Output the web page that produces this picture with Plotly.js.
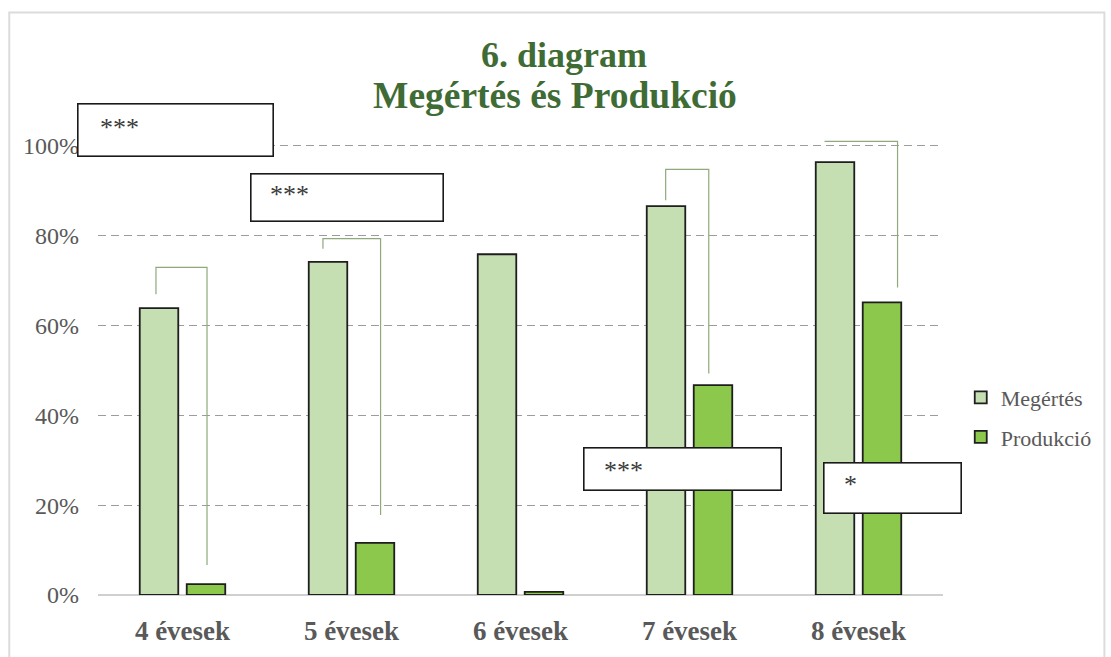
<!DOCTYPE html>
<html>
<head>
<meta charset="utf-8">
<script src="https://cdn.plot.ly/plotly-3.0.1.min.js"></script>
<style>html,body{margin:0;padding:0;background:#fff;}#chart{width:1111px;height:657px;}</style>
</head>
<body>
<div id="chart"></div>
<script>
// Data
const categories = ['4 évesek', '5 évesek', '6 évesek', '7 évesek', '8 évesek'];
const megertes = [63.8, 74.1, 75.8, 86.5, 96.3];
const produkcio = [2.4, 11.6, 0.7, 46.7, 65.1];
const yTickVals = [0, 20, 40, 60, 80, 100];
const yTickText = ['0%', '20%', '40%', '60%', '80%', '100%'];
const significance = ['***', '***', '***', '*'];
const titleLine1 = '6. diagram';
const titleLine2 = 'Megértés és Produkció';

const serif = '"Liberation Serif", "DejaVu Serif", serif';
const bracketColor = '#8fa97c';

const traces = [
  {
    type: 'bar', name: 'Megértés', x: categories, y: megertes,
    marker: {color: '#c5dfb3', line: {color: '#1e1e1e', width: 1.8}},
    legendgroup: 'a', hoverinfo: 'skip'
  },
  {
    type: 'bar', name: 'Produkció', x: categories, y: produkcio,
    marker: {color: '#8cc84b', line: {color: '#1e1e1e', width: 1.8}},
    legendgroup: 'b', hoverinfo: 'skip'
  }
];

function bracket(pts) {
  return {
    type: 'path', xref: 'x', yref: 'y', layer: 'above',
    path: pts.map((p, i) => (i ? 'L' : 'M') + p[0] + ',' + p[1]).join(' '),
    line: {color: bracketColor, width: 1.2}
  };
}

const shapes = [
  bracket([[-0.157, 66.9], [-0.157, 72.9], [0.145, 72.9], [0.145, 6.7]]),
  bracket([[0.831, 77.0], [0.831, 79.3], [1.172, 79.3], [1.172, 17.8]]),
  bracket([[2.859, 87.8], [2.859, 94.7], [3.114, 94.7], [3.114, 49.3]]),
  bracket([[3.799, 100.9], [4.231, 100.9], [4.231, 68.4]]),
  {type: 'rect', xref: 'paper', yref: 'paper', x0: -0.105, x1: 1.191, y0: -0.14, y1: 1.234,
   line: {color: '#dcdcdc', width: 2}, layer: 'below'}
];

const boxes = [
  {x: -0.039, y: 103.4, w: 196, h: 53, tx: -0.499, ty: 104.1},
  {x: 0.975, y: 88.4, w: 193, h: 48, tx: 0.506, ty: 89.0},
  {x: 2.959, y: 28.1, w: 198, h: 43, tx: 2.481, ty: 27.8},
  {x: 4.201, y: 23.9, w: 138, h: 51, tx: 3.902, ty: 24.6}
];
const annotations = [];
boxes.forEach((b, i) => {
  annotations.push({
    xref: 'x', yref: 'y', x: b.x, y: b.y, text: ' ', showarrow: false,
    width: b.w - 2, height: b.h - 2, bgcolor: '#ffffff', bordercolor: '#1a1a1a',
    borderwidth: 1.6, borderpad: 0, font: {size: 10}
  });
  annotations.push({
    xref: 'x', yref: 'y', x: b.tx, y: b.ty, xanchor: 'left', yanchor: 'middle',
    text: significance[i], showarrow: false,
    font: {family: serif, size: 26, color: '#3a3a3a'}
  });
});
annotations.push({
  xref: 'paper', yref: 'paper', x: 0.5405, y: 1.058, xanchor: 'center', yanchor: 'middle',
  text: '<b>' + titleLine2 + '</b>', showarrow: false,
  font: {family: serif, size: 37.5, color: '#3f6b35'}
});

const layout = {
  width: 1111, height: 657,
  paper_bgcolor: '#ffffff', plot_bgcolor: '#ffffff',
  margin: {l: 98, r: 167.5, t: 122.5, b: 62},
  title: {
    text: '<b>' + titleLine1 + '</b>',
    x: 0.5077, xref: 'container', xanchor: 'center',
    y: 0.917, yref: 'container', yanchor: 'middle',
    font: {family: serif, size: 36, color: '#3f6b35'}
  },
  barmode: 'group', bargap: 0.444, bargroupgap: 0.18,
  xaxis: {
    type: 'category', range: [-0.5, 4.5], autorange: false,
    showgrid: false, zeroline: false,
    showline: false, ticks: '',
    tickfont: {family: serif, size: 27, color: '#595959', weight: 'bold'},
    ticklabelstandoff: 17
  },
  yaxis: {
    range: [0, 105], autorange: false, tickvals: yTickVals, ticktext: yTickText,
    showgrid: true, gridcolor: '#9c9c9c', griddash: '8px,5px', gridwidth: 1.2,
    zeroline: true, zerolinecolor: '#d0d0d0', zerolinewidth: 1.5,
    showline: false, ticks: '', ticklabelstandoff: 18,
    tickfont: {family: serif, size: 24, color: '#595959'}
  },
  showlegend: true,
  legend: {
    x: 1.021, xanchor: 'left', y: 0.376, yanchor: 'middle',
    font: {family: serif, size: 22, color: '#595959'},
    tracegroupgap: 8, itemwidth: 30, traceorder: 'grouped'
  },
  shapes: shapes,
  annotations: annotations
};

Plotly.newPlot('chart', traces, layout, {staticPlot: true, displayModeBar: false});
</script>
</body>
</html>
